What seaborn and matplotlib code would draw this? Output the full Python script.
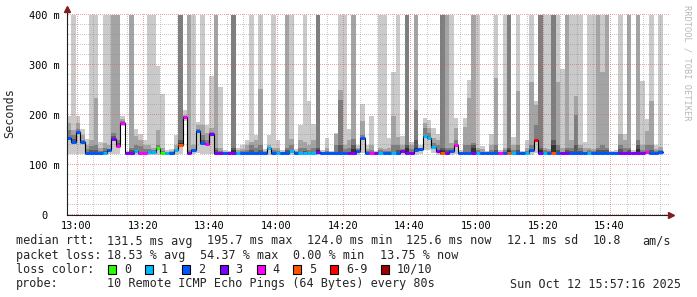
import numpy as np
import pandas as pd
import matplotlib
matplotlib.use("Agg")
import matplotlib.pyplot as plt
import seaborn as sns
from matplotlib.ticker import MultipleLocator, FixedLocator
from matplotlib.patches import Rectangle
from matplotlib.transforms import IdentityTransform

# ---------------- data ----------------
start_time = "12:57:16"      # left edge of the graph window
window_minutes = 180
step_seconds = 80

# median RTT per 80 s step (ms)
median_ms = [
    155, 147, 166, 147, 125, 125, 125, 125, 125, 131,
    152, 139, 184, 125, 125, 129, 125, 125, 126, 127,
    134, 125, 125, 125, 130, 140, 195.7, 125, 130, 168,
    145, 142, 162, 125, 125, 125, 125, 125, 125, 125,
    125, 125, 125, 125, 125, 134, 125, 125, 125, 125,
    128, 125, 125, 125, 125, 125, 126, 125, 125, 124,
    124, 124, 124, 125, 125, 128, 155, 125, 125, 125,
    125, 125, 125, 125, 125, 129, 125, 125, 130, 133,
    158, 155, 137, 129, 124, 125, 129, 140, 125, 125,
    124, 124, 125, 125, 125, 125, 125, 125, 125, 125,
    125, 125, 125, 125, 130, 150, 125, 125, 124, 124,
    125, 124, 124, 125, 125, 125, 124, 125, 124, 125,
    124, 125, 125, 125, 125, 125, 125, 124, 125, 125,
    127, 125, 125, 125.6,
]

# lost pings per step (index into loss colours; 6 means 6-9)
loss_level = [
    2, 2, 2, 2, 2, 2, 2, 2, 1, 2,
    3, 4, 4, 3, 3, 1, 4, 4, 1, 1,
    0, 0, 1, 2, 1, 5, 4, 3, 2, 2,
    2, 4, 3, 3, 3, 2, 3, 3, 1, 2,
    2, 2, 2, 2, 2, 1, 2, 1, 2, 2,
    1, 2, 1, 1, 1, 1, 3, 2, 2, 2,
    2, 2, 2, 3, 3, 2, 2, 2, 4, 3,
    1, 2, 2, 1, 2, 3, 3, 3, 2, 2,
    1, 1, 1, 3, 5, 3, 2, 4, 2, 2,
    2, 3, 1, 2, 2, 2, 2, 4, 2, 5,
    1, 2, 2, 1, 2, 6, 3, 1, 2, 5,
    2, 3, 3, 2, 2, 2, 2, 1, 2, 2,
    2, 2, 2, 2, 3, 3, 3, 3, 3, 3,
    4, 2, 2, 2,
]

# number of smoke layers that run off the top of the graph (lost pings)
smoke_layers_to_top = [
    0, 1, 0, 0, 0, 1, 1, 0, 1, 1,
    2, 2, 0, 0, 2, 0, 0, 0, 1, 1,
    0, 0, 0, 0, 0, 3, 0, 2, 1, 0,
    1, 0, 0, 2, 0, 0, 0, 3, 0, 0,
    0, 1, 0, 1, 0, 0, 1, 0, 0, 2,
    1, 0, 0, 1, 0, 0, 3, 0, 0, 0,
    0, 1, 1, 0, 2, 0, 0, 0, 0, 0,
    1, 1, 0, 0, 1, 0, 3, 0, 2, 0,
    0, 0, 0, 0, 3, 2, 1, 0, 0, 0,
    0, 2, 1, 0, 0, 0, 1, 0, 1, 3,
    0, 1, 0, 0, 1, 0, 3, 1, 1, 3,
    1, 0, 2, 1, 1, 1, 0, 1, 1, 2,
    1, 2, 0, 0, 1, 0, 2, 0, 2, 0,
    0, 1, 0, 1,
]

# highest received ping (top of first smoke layer below the lost ones), ms
smoke_hi1 = [
    198, 170, 198, 173, 153, 150, 233, 147, 145, 140,
    165, 150, 198, 128, 135, 173, 163, 150, 140, 135,
    297, 241, 130, 132, 160, 150, 210, 130, 140, 187,
    180, 180, 277, 135, 255, 130, 128, 135, 135, 140,
    150, 147, 160, 252, 133, 160, 135, 150, 130, 135,
    153, 133, 180, 147, 227, 183, 135, 130, 155, 128,
    165, 250, 140, 173, 152, 140, 222, 140, 198, 128,
    135, 133, 155, 285, 157, 158, 140, 147, 210, 140,
    195, 190, 175, 163, 135, 135, 145, 195, 130, 195,
    270, 145, 135, 138, 128, 162, 273, 130, 135, 135,
    157, 248, 128, 150, 265, 228, 135, 135, 133, 150,
    265, 292, 135, 150, 237, 140, 147, 135, 133, 135,
    285, 135, 128, 130, 163, 163, 135, 130, 150, 267,
    192, 227, 140, 135,
]

# next received ping (top of second layer), ms
smoke_hi2 = [
    185, 160, 185, 160, 140, 138, 140, 135, 135, 133,
    158, 145, 192, 126, 130, 158, 150, 140, 133, 130,
    170, 135, 127, 128, 140, 145, 200, 127, 133, 180,
    160, 165, 175, 130, 135, 127, 126, 130, 130, 133,
    140, 140, 150, 140, 129, 140, 130, 135, 127, 130,
    140, 129, 150, 135, 140, 150, 130, 127, 135, 126,
    162, 230, 133, 150, 140, 135, 188, 132, 140, 126,
    130, 129, 135, 198, 140, 140, 135, 140, 150, 135,
    185, 175, 155, 150, 130, 130, 135, 175, 127, 177,
    233, 140, 130, 132, 126, 140, 140, 127, 130, 130,
    140, 140, 126, 135, 140, 220, 130, 130, 129, 140,
    140, 135, 130, 135, 200, 135, 135, 130, 129, 130,
    140, 130, 126, 127, 140, 150, 130, 127, 140, 140,
    168, 140, 133, 130,
]

# top of the third layer (inner smoke), ms
smoke_core = [
    170, 152, 172, 150, 132, 130, 130, 128, 128, 133,
    155, 141, 188, 125, 127, 140, 138, 132, 128, 128,
    140, 128, 126, 126, 132, 142, 198, 126, 131, 172,
    150, 150, 166, 127, 128, 126, 125, 127, 127, 128,
    130, 130, 135, 130, 127, 136, 127, 128, 126, 127,
    131, 127, 135, 128, 130, 135, 128, 126, 128, 125,
    140, 140, 127, 135, 132, 132, 160, 128, 130, 125,
    127, 127, 128, 140, 130, 132, 128, 132, 134, 135,
    175, 165, 145, 140, 126, 127, 131, 150, 126, 140,
    140, 135, 127, 127, 125, 130, 130, 126, 127, 127,
    130, 130, 125, 128, 133, 180, 127, 127, 126, 130,
    130, 127, 126, 128, 140, 128, 127, 127, 126, 127,
    130, 127, 126, 126, 132, 135, 127, 125, 132, 130,
    140, 130, 128, 127,
]

# lowest ping per step, ms
smoke_low = [
    122, 122, 122, 122, 121, 121, 121, 121, 121, 122,
    122, 122, 178, 121, 121, 121, 121, 121, 121, 121,
    121, 121, 121, 121, 121, 122, 188, 121, 122, 125,
    122, 122, 122, 121, 121, 121, 121, 121, 121, 121,
    121, 121, 121, 121, 121, 121, 121, 121, 121, 121,
    121, 121, 121, 121, 121, 121, 121, 121, 121, 120,
    120, 120, 120, 121, 121, 121, 125, 121, 121, 121,
    121, 121, 121, 121, 121, 121, 121, 121, 121, 122,
    130, 130, 125, 121, 120, 121, 121, 122, 121, 121,
    120, 120, 121, 121, 121, 121, 121, 121, 121, 121,
    121, 121, 121, 121, 121, 125, 121, 121, 120, 120,
    121, 120, 120, 121, 121, 121, 120, 121, 120, 121,
    120, 121, 121, 121, 121, 121, 121, 120, 121, 121,
    122, 121, 121, 121,
]

loss_labels = ["0", "1", "2", "3", "4", "5", "6-9", "10/10"]
loss_colors = ["#26ff00", "#00b8ff", "#0059ff", "#7e00ff",
               "#ff00ff", "#ff5500", "#ff0000", "#a10000"]
smoke_shades = ["#cacaca", "#a4a4a4", "#7e7e7e", "#585858", "#323232"]

y_ticks = [0, 100, 200, 300, 400]
y_tick_labels = ["0\u00a0\u00a0", "100 m", "200 m", "300 m", "400 m"]
x_tick_labels = ["13:00", "13:20", "13:40", "14:00", "14:20",
                 "14:40", "15:00", "15:20", "15:40"]

stats_rtt = ["median rtt:", "131.5 ms avg", "195.7 ms max", "124.0 ms min",
             "125.6 ms now", "12.1 ms sd", "10.8", "am/s"]
stats_loss = ["packet loss:", "18.53 % avg", "54.37 % max", "0.00 % min",
              "13.75 % now"]
probe_text = ["probe:", "10 Remote ICMP Echo Pings (64 Bytes) every 80s"]
date_text = "Sun Oct 12 15:57:16 2025"
watermark = "RRDTOOL / TOBI OETIKER"

# ---------------- style ----------------
sns.set_theme(style="white")
plt.rcParams["font.family"] = ["DejaVu Sans Mono", "DejaVu Sans"]
plt.rcParams["axes.facecolor"] = "white"
plt.rcParams["figure.facecolor"] = "white"

W, H = 697, 297
fig = plt.figure(figsize=(W / 100, H / 100), dpi=100)
ax = fig.add_axes([67 / W, 82 / H, 600 / W, 200 / H])

# time axis in minutes after midnight
h, m, s = (int(v) for v in start_time.split(":"))
t0 = h * 60 + m + s / 60
n = len(median_ms)
step_min = step_seconds / 60
left = t0 + np.arange(n) * step_min
YMAX = y_ticks[-1]

df = pd.DataFrame({
    "left": left, "median": median_ms, "loss": loss_level,
    "ntop": smoke_layers_to_top, "hi1": smoke_hi1, "hi2": smoke_hi2,
    "core": smoke_core, "low": smoke_low,
})

# smoke layers (outer = lightest)
for i in range(1, 6):
    tops = []
    bots = []
    for _, r in df.iterrows():
        nt = int(r["ntop"])
        if i <= nt:
            top = YMAX
        elif i == nt + 1:
            top = r["hi1"]
        elif i == nt + 2:
            top = r["hi2"]
        elif i == nt + 3:
            top = r["core"]
        else:
            top = r["median"]
        bot = r["low"] if i == 1 else r["median"]
        tops.append(top)
        bots.append(bot)
    tops = np.array(tops, float)
    bots = np.array(bots, float)
    ax.bar(df["left"], tops - bots, bottom=bots, width=step_min, align="edge",
           color=smoke_shades[i - 1], linewidth=0, antialiased=False, zorder=1)

# black median step line
xs = np.append(df["left"].values, df["left"].values[-1] + step_min)
ys = np.append(df["median"].values, df["median"].values[-1])
sns.lineplot(x=xs, y=ys, ax=ax, drawstyle="steps-post", color="#000000",
             linewidth=0.8, estimator=None, sort=False, zorder=3)

# loss-coloured median segments
seg_colors = [loss_colors[v] for v in df["loss"]]
ax.hlines(df["median"], df["left"], df["left"] + step_min, colors=seg_colors,
          linewidth=2.2, zorder=4, capstyle="butt")

# axes limits / ticks
ax.set_xlim(t0, t0 + window_minutes)
ax.set_ylim(0, YMAX)
major_x = [13 * 60 + 20 * k for k in range(len(x_tick_labels))]
ax.xaxis.set_major_locator(FixedLocator(major_x))
ax.set_xticklabels(x_tick_labels)
ax.yaxis.set_major_locator(FixedLocator(y_ticks))
ax.set_yticklabels(y_tick_labels)
ax.grid(False)
ax.tick_params(axis="y", which="both", length=0, pad=5, labelsize=7.4,
               colors="black")
ax.tick_params(axis="x", which="major", length=2.5, width=0.8, pad=2,
               labelsize=7.4, colors="black", direction="out")
for sp in ["top", "right"]:
    ax.spines[sp].set_visible(False)
for sp in ["left", "bottom"]:
    ax.spines[sp].set_color((0.12, 0.12, 0.12))
    ax.spines[sp].set_linewidth(0.8)
    ax.spines[sp].set_zorder(5)

# dotted RRDtool-style grid (1 px on / 1 px off), drawn over the smoke
minor_x = np.arange(np.ceil(t0 / 5) * 5, t0 + window_minutes + 1e-9, 5)
minor_y = np.arange(0, YMAX + 1e-9, 20)
x0p, y0p = ax.transData.transform((t0, 0))
x1p, y1p = ax.transData.transform((t0 + window_minutes, YMAX))
col_px = np.arange(np.floor(x0p), np.floor(x1p) + 1, 2) + 0.5
row_px = np.arange(np.floor(y0p), np.floor(y1p) + 1, 2) + 0.5
minor_c = (0.55, 0.55, 0.55, 0.45)
major_c = (0.87, 0.31, 0.31, 0.5)
for yv in minor_y:
    py = np.floor(ax.transData.transform((t0, yv))[1]) + 0.5
    c = major_c if yv in y_ticks else minor_c
    ax.plot(col_px, np.full_like(col_px, py), ",", color=c,
            transform=IdentityTransform(), zorder=2, clip_on=False)
for xv in minor_x:
    px = np.floor(ax.transData.transform((xv, 0))[0]) + 0.5
    c = major_c if int(round(xv)) in major_x else minor_c
    ax.plot(np.full_like(row_px, px), row_px, ",", color=c,
            transform=IdentityTransform(), zorder=2, clip_on=False)

# axis arrows
axis_col = (0.12, 0.12, 0.12)
arrow_col = (0.50, 0.12, 0.12)
ax.plot([0, 0], [1, 1.025], transform=ax.transAxes, color=axis_col,
        lw=0.8, clip_on=False, zorder=5)
ax.plot([0], [1.03], transform=ax.transAxes, marker="^", ms=4,
        color=arrow_col, mec=arrow_col, clip_on=False, zorder=6)
ax.plot([1, 1.003], [0, 0], transform=ax.transAxes, color=axis_col,
        lw=0.8, clip_on=False, zorder=5)
ax.plot([1.007], [0], transform=ax.transAxes, marker=">", ms=4,
        color=arrow_col, mec=arrow_col, clip_on=False, zorder=6)

# y label
fig.text(10 / W, 1 - 113 / H, "Seconds", rotation=90, ha="center",
         va="center", fontsize=8.5)

# watermark
fig.text(687 / W, 1 - 5 / H, watermark, rotation=270, ha="center", va="top",
         fontsize=6.2, color="#b8b8b8")

# legend / stats lines
FS = 8.5
def put(x, y, s, **kw):
    fig.text(x / W, 1 - y / H, s, ha="left", va="center", fontsize=FS, **kw)

rtt_x = [16, 107, 207, 307, 406, 507, 593, 642]
for x, s in zip(rtt_x, stats_rtt):
    put(x, 241, s)
loss_x = [16, 107, 200, 293, 380]
for x, s in zip(loss_x, stats_loss):
    put(x, 255.5, s)

put(16, 269.5, "loss color:")
box_x = [108, 145, 182, 220, 257, 293, 330, 381]
lab_x = [124, 161, 198, 235, 272, 309, 346, 397]
for bx, lx, c, lab in zip(box_x, lab_x, loss_colors, loss_labels):
    fig.patches.append(Rectangle((bx / W, 1 - 274 / H), 8 / W, 9 / H,
                                 transform=fig.transFigure, facecolor=c,
                                 edgecolor="black", linewidth=0.8))
    put(lx, 269.5, lab)

put(16, 284, probe_text[0])
put(107, 284, probe_text[1])
fig.text(681 / W, 1 - 284 / H, date_text, ha="right", va="center", fontsize=FS)

fig.savefig("out.png", dpi=100)
